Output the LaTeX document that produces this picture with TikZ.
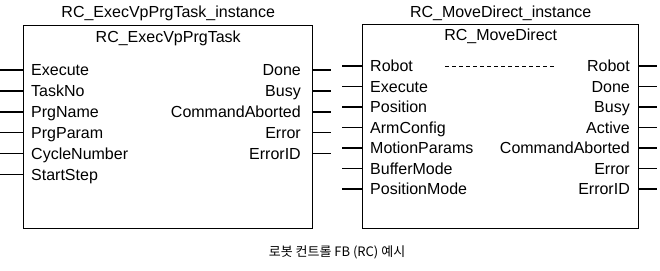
\documentclass[tikz,border=0pt]{standalone}
\usepackage{fontspec}
\setmainfont{Liberation Sans}
\newfontfamily\krfont{Noto Sans CJK KR}
\usepackage{tikz}
\usetikzlibrary{positioning}

\begin{document}
\begin{tikzpicture}[
    x=1pt, y=-1pt,
    fbbox/.style={rectangle, draw, line width=1.4pt, anchor=north west,
                  inner sep=0pt},
    fbtext/.style={font=\fontsize{16}{16}\selectfont, inner sep=0pt,
                   text height=11.5pt, text depth=0pt},
    pinline/.style={line width=1.4pt},
    dashline/.style={line width=1pt, dash pattern=on 4pt off 3pt},
]
    \useasboundingbox (0,0) rectangle (660,270);

    % function block 1
    \node[fbbox, minimum width=289pt, minimum height=203pt] (taskbox) at (23,25) {};
    \node[fbtext, above=7pt of taskbox.north] (taskinst) {RC\_ExecVpPrgTask\_instance};
    \node[fbtext, below=6pt of taskbox.north] (taskname) {RC\_ExecVpPrgTask};
    \foreach \lbl [count=\i from 0] in {Execute, TaskNo, PrgName, PrgParam, CycleNumber, StartStep} {
        \coordinate (tinpin\i) at (0, 70+20.9*\i);
        \node[fbtext, anchor=west] (tin\i) at (31, 70+20.9*\i) {\lbl};
        \draw[pinline] (tinpin\i) -- (tinpin\i -| taskbox.west);
    }
    \foreach \lbl [count=\i from 0] in {Done, Busy, CommandAborted, Error, ErrorID} {
        \coordinate (toutpin\i) at (331, 70+20.9*\i);
        \node[fbtext, anchor=east] (tout\i) at (301, 70+20.9*\i) {\lbl};
        \draw[pinline] (toutpin\i -| taskbox.east) -- (toutpin\i);
    }

    % function block 2
    \node[fbbox, minimum width=276pt, minimum height=204pt] (movebox) at (362,24) {};
    \node[fbtext, above=6pt of movebox.north] (moveinst) {RC\_MoveDirect\_instance};
    \node[fbtext, below=5pt of movebox.north] (movename) {RC\_MoveDirect};
    \foreach \lbl [count=\i from 0] in {Robot, Execute, Position, ArmConfig, MotionParams, BufferMode, PositionMode} {
        \coordinate (minpin\i) at (342, 66+20.5*\i);
        \node[fbtext, anchor=west] (min\i) at (370, 66+20.5*\i) {\lbl};
        \draw[pinline] (minpin\i) -- (minpin\i -| movebox.west);
    }
    \foreach \lbl [count=\i from 0] in {Robot, Done, Busy, Active, CommandAborted, Error, ErrorID} {
        \coordinate (moutpin\i) at (657, 66+20.5*\i);
        \node[fbtext, anchor=east] (mout\i) at (630, 66+20.5*\i) {\lbl};
        \draw[pinline] (moutpin\i -| movebox.east) -- (moutpin\i);
    }
    \draw[dashline] ([xshift=32pt]min0.east) -- ([xshift=-31pt]mout0.west);

    % caption
    \node[font=\krfont\fontsize{13}{13}\selectfont, inner sep=0pt] (caption) at (337,252)
          {로봇 컨트롤 FB (RC) 예시};
\end{tikzpicture}
\end{document}
